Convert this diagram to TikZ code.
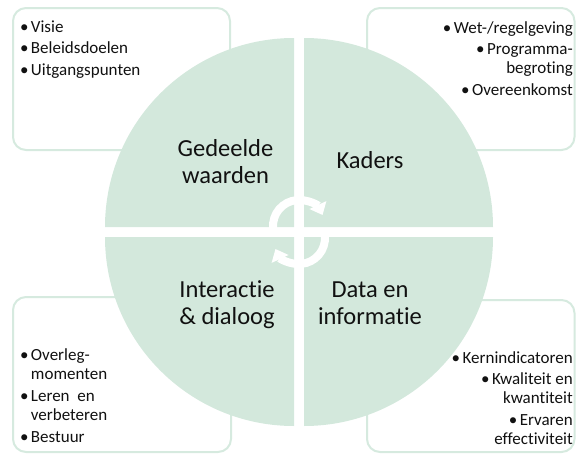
\documentclass[tikz,border=0pt]{standalone}
\usepackage{fontspec}
\setmainfont{Carlito}[Ligatures={NoCommon}, RawFeature={-liga;-clig;-dlig}]
\usetikzlibrary{arrows.meta}
\definecolor{mint}{HTML}{D3E8DC}
\definecolor{mintline}{HTML}{D6EADF}
\definecolor{txt}{HTML}{111111}
\newcommand{\myb}{•\hspace{2.5pt}}
\newcommand{\myh}{\phantom{•}\hspace{2.5pt}}
\begin{document}
\begin{tikzpicture}[x=1pt,y=-1pt,
 infobox/.style={draw=mintline, line width=2pt, fill=white, rounded corners=13pt},
 quad/.style={fill=mint},
 biglabel/.style={font=\fontsize{24.5}{27}\selectfont, text=txt, align=center, inner sep=0pt},
 listtext/.style={font=\fontsize{17}{19}\selectfont, text=txt, inner sep=0pt},
 cyclearrow/.style={draw=white, line width=8pt, -{Triangle[width=18pt,length=11pt]}}]
\useasboundingbox (0,0) rectangle (576,453);
% boxes
\draw[infobox] (13,8) rectangle (230,150);
\draw[infobox] (367,8) rectangle (574.5,150);
\draw[infobox] (13,297) rectangle (231,452);
\draw[infobox] (367,300) rectangle (574.5,452);
% quadrants
\fill[quad] (294,227) -- (105,227) arc[start angle=180,end angle=270,radius=189] -- cycle;
\fill[quad] (304,227) -- (304,38) arc[start angle=270,end angle=360,radius=189] -- cycle;
\fill[quad] (304,237) -- (493,237) arc[start angle=0,end angle=90,radius=189] -- cycle;
\fill[quad] (294,237) -- (294,426) arc[start angle=90,end angle=180,radius=189] -- cycle;
% cycle arrows
\coordinate (ctop) at (299,226);
\coordinate (cbot) at (299,238);
\draw[cyclearrow] ([shift={(175:26)}]ctop) arc[start angle=175,end angle=335,radius=26];
\draw[cyclearrow] ([shift={(-5:26)}]cbot) arc[start angle=-5,end angle=155,radius=26];
% labels
\node[biglabel, anchor=base] (gw) at (225.5,183) {Gedeelde\\waarden};
\node[biglabel, anchor=base] (kd) at (370,168) {Kaders};
\node[biglabel, anchor=base] (id) at (227,324) {Interactie\\\& dialoog};
\node[biglabel, anchor=base] (di) at (370,324) {Data en\\informatie};
% lists
\node[listtext, align=left, anchor=base west] (l1) at (19.8,75) {\myb Visie\\[2.5pt]\myb Beleidsdoelen\\[2.5pt]\myb Uitgangspunten};
\node[listtext, align=right, anchor=base east] (l2) at (573,95) {\myb Wet-/regelgeving\\[2.5pt]\myb Programma-\\begroting\\[2.5pt]\myb Overeenkomst};
\node[listtext, align=left, anchor=base west] (l3) at (19.8,442) {\myb Overleg-\\\myh momenten\\[3pt]\myb Leren~ en\\\myh verbeteren\\[3pt]\myb Bestuur};
\node[listtext, align=right, anchor=base east] (l4) at (573,444) {\myb Kernindicatoren\\[2.5pt]\myb Kwaliteit en\\kwantiteit\\[2.5pt]\myb Ervaren\\effectiviteit};
\end{tikzpicture}
\end{document}
